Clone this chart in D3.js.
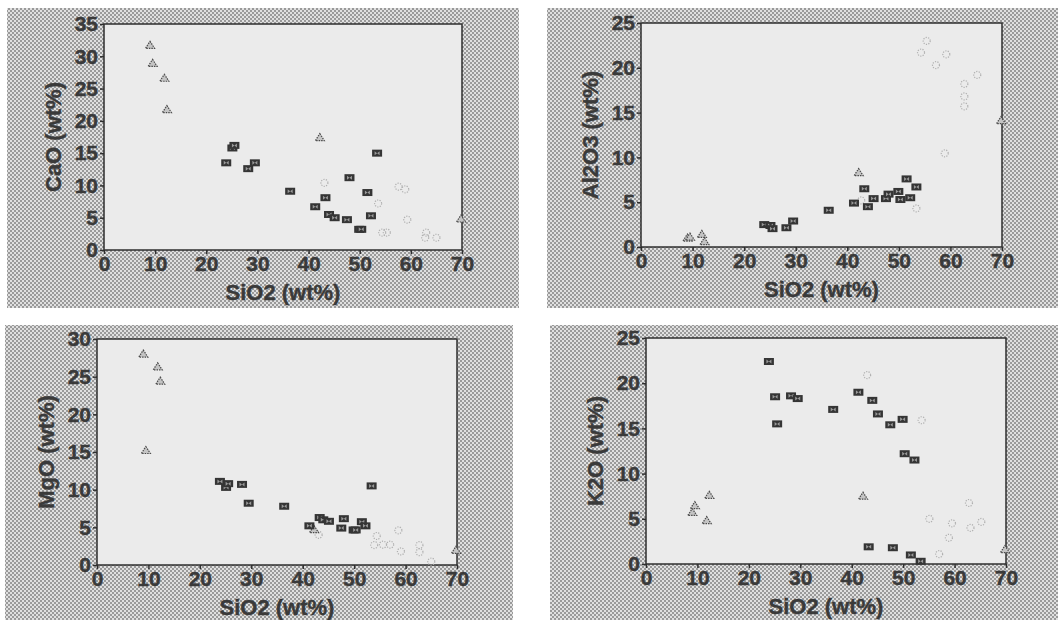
<!DOCTYPE html>
<html>
<head>
<meta charset="utf-8">
<script src="https://cdn.jsdelivr.net/npm/d3@7"></script>
<style>
  body { margin: 0; background: #fff; }
  .tick text { font-family: "Liberation Sans", Arial, sans-serif; font-weight: bold; font-size: 21px; fill: #3a3a3a; stroke: #3a3a3a; stroke-width: 0.4px; }
  .title { font-family: "Liberation Sans", Arial, sans-serif; font-weight: bold; font-size: 22px; fill: #3a3a3a; stroke: #3a3a3a; stroke-width: 0.4px; }
</style>
</head>
<body>
<div class="graph"></div>
<script>
/*--------------- DATA -------------*/

// shared x values (SiO2 wt%) for dark samples and triangles
const darkSiO2 = [23.9, 25.1, 25.5, 28.2, 29.5, 36.4, 41.3, 43.3, 44.0, 45.1, 47.5, 48.0, 49.9, 50.3, 51.5, 52.2, 53.4];
const darkCaO  = [13.5, 15.8, 16.2, 12.6, 13.5, 9.1, 6.7, 8.1, 5.5, 5.0, 4.7, 11.2, 3.2, 3.2, 8.9, 5.3, 15.0];
const darkAl2O3 = [2.5, 2.4, 2.05, 2.15, 2.9, 4.1, 4.9, 6.5, 4.5, 5.4, 5.4, 5.9, 6.2, 5.3, 7.6, 5.5, 6.7];
const darkMgO  = [11.1, 10.3, 10.8, 10.7, 8.2, 7.8, 5.2, 6.3, 6.0, 5.8, 4.9, 6.15, 4.65, 4.65, 5.75, 5.2, 10.5];
const darkK2O  = [22.4, 18.5, 15.5, 18.6, 18.3, 17.1, 19.0, 1.9, 18.1, 16.6, 15.4, 1.8, 16.0, 12.2, 1.0, 11.5, 0.3];

const triSiO2  = [9.0, 9.5, 11.8, 12.3, 42.2, 69.8];
const triCaO   = [31.7, 28.9, 26.6, 21.75, 17.4, 4.8];
const triAl2O3 = [1.0, 1.1, 1.4, 0.6, 8.3, 14.1];
const triMgO   = [28.0, 15.2, 26.3, 24.4, 4.7, 1.95];
const triK2O   = [5.7, 6.45, 4.8, 7.6, 7.5, 1.6];

// light open markers, [SiO2, oxide]
const lightCaO = [[43.1, 10.4], [53.6, 7.2], [54.4, 2.7], [55.3, 2.7], [57.6, 9.8], [58.9, 9.4], [59.3, 4.7], [62.8, 1.9], [63.0, 2.7], [65.0, 1.9]];
const lightAl2O3 = [[42.7, 5.2], [53.4, 4.3], [54.3, 21.7], [55.4, 23.0], [57.2, 20.3], [59.2, 21.5], [58.9, 10.45], [62.7, 18.2], [62.7, 16.8], [62.7, 15.7], [65.2, 19.2]];
const lightMgO = [[43.1, 4.0], [53.9, 2.65], [54.4, 3.85], [55.6, 2.7], [57.0, 2.7], [58.6, 4.6], [59.1, 1.8], [62.7, 2.65], [62.7, 1.7], [65.0, 0.45]];
const lightK2O = [[43.0, 20.9], [53.6, 15.9], [55.1, 5.0], [57.0, 1.1], [58.9, 2.9], [59.5, 4.5], [62.8, 6.75], [63.1, 4.0], [65.2, 4.65]];

const xTicks = [0, 10, 20, 30, 40, 50, 60, 70];
const xLabel = "SiO2 (wt%)";

// one entry per panel: box of stippled background, box of plot area, y axis
const PANELS = [
  {bg: [7, 8, 512, 300],   plot: [104, 462, 24, 250],  yMax: 35, yLabel: "CaO (wt%)",   dark: darkCaO,   tri: triCaO,   light: lightCaO},
  {bg: [547, 8, 511, 300], plot: [641, 1002, 23, 247], yMax: 25, yLabel: "Al2O3 (wt%)", dark: darkAl2O3, tri: triAl2O3, light: lightAl2O3},
  {bg: [5, 325, 508, 295], plot: [97, 457, 339, 565],  yMax: 30, yLabel: "MgO (wt%)",   dark: darkMgO,   tri: triMgO,   light: lightMgO},
  {bg: [550, 325, 508, 295], plot: [646, 1006, 338, 564], yMax: 25, yLabel: "K2O (wt%)", dark: darkK2O,   tri: triK2O,   light: lightK2O}
];

/*--------------- D3 STUFF -------------*/

const svg = d3.select(".graph").append("svg")
    .attr("width", 1058)
    .attr("height", 620);

// checkered stipple like the halftone print
const defs = svg.append("defs");
const pat = defs.append("pattern")
    .attr("id", "stipple")
    .attr("width", 4).attr("height", 4)
    .attr("patternUnits", "userSpaceOnUse");
pat.append("rect").attr("width", 4).attr("height", 4).attr("fill", "#e0e0e0");
pat.append("rect").attr("width", 2).attr("height", 2).attr("fill", "#9a9a9a");
pat.append("rect").attr("x", 2).attr("y", 2).attr("width", 2).attr("height", 2).attr("fill", "#9a9a9a");

const triPath = "M0,-4L4.5,3L-4.5,3Z";

PANELS.forEach(p => {
  const [x0, x1, y0, y1] = p.plot;

  svg.append("rect")
      .attr("x", p.bg[0]).attr("y", p.bg[1])
      .attr("width", p.bg[2]).attr("height", p.bg[3])
      .attr("fill", "url(#stipple)");

  const x = d3.scaleLinear().domain([0, 70]).range([x0, x1]);
  const y = d3.scaleLinear().domain([0, p.yMax]).range([y1, y0]);

  // plot area
  svg.append("rect")
      .attr("x", x0).attr("y", y0)
      .attr("width", x1 - x0).attr("height", y1 - y0)
      .attr("fill", "#ebebeb")
      .attr("stroke", "#2e2e2e")
      .attr("stroke-width", 1.5);

  // axes
  const xAxis = svg.append("g")
      .attr("transform", `translate(0, ${y1})`)
      .call(d3.axisBottom(x).tickValues(xTicks).tickSize(4).tickPadding(2));
  const yAxis = svg.append("g")
      .attr("transform", `translate(${x0}, 0)`)
      .call(d3.axisLeft(y).ticks(p.yMax / 5).tickSize(4).tickPadding(2));
  [xAxis, yAxis].forEach(a => {
    a.select(".domain").remove();
    a.selectAll(".tick line").attr("stroke", "#2e2e2e").attr("stroke-width", 1.5);
  });

  // axis titles
  svg.append("text")
      .attr("class", "title")
      .attr("x", (x0 + x1) / 2)
      .attr("y", y1 + 50)
      .attr("text-anchor", "middle")
      .text(xLabel);
  svg.append("text")
      .attr("class", "title")
      .attr("transform", `translate(${x0 - 43}, ${(y0 + y1) / 2}) rotate(-90)`)
      .attr("text-anchor", "middle")
      .text(p.yLabel);

  // light open markers
  svg.append("g").selectAll("circle")
      .data(p.light)
      .enter()
      .append("circle")
      .attr("cx", d => x(d[0]))
      .attr("cy", d => y(d[1]))
      .attr("r", 3.5)
      .attr("fill", "none")
      .attr("stroke", "#b0b0b0")
      .attr("stroke-width", 1.2)
      .attr("stroke-dasharray", "1.2,1.3");

  // triangles
  svg.append("g").selectAll("path")
      .data(triSiO2.map((s, i) => [s, p.tri[i]]))
      .enter()
      .append("path")
      .attr("d", triPath)
      .attr("transform", d => `translate(${x(d[0])}, ${y(d[1])})`)
      .attr("fill", "#c4c4c4")
      .attr("stroke", "#4a4a4a")
      .attr("stroke-width", 1.2)
      .attr("stroke-dasharray", "1.5,1");

  // dark bowtie markers
  const dark = svg.append("g").selectAll("g")
      .data(darkSiO2.map((s, i) => [s, p.dark[i]]))
      .enter()
      .append("g")
      .attr("transform", d => `translate(${x(d[0])}, ${y(d[1])})`);
  dark.append("rect")
      .attr("x", -5).attr("y", -3.5)
      .attr("width", 10).attr("height", 7)
      .attr("fill", "#353535");
  dark.append("path")
      .attr("d", "M-2.5,-2L0,0L-2.5,2Z M2.5,-2L0,0L2.5,2Z")
      .attr("fill", "#9a9a9a");
});
</script>
</body>
</html>
